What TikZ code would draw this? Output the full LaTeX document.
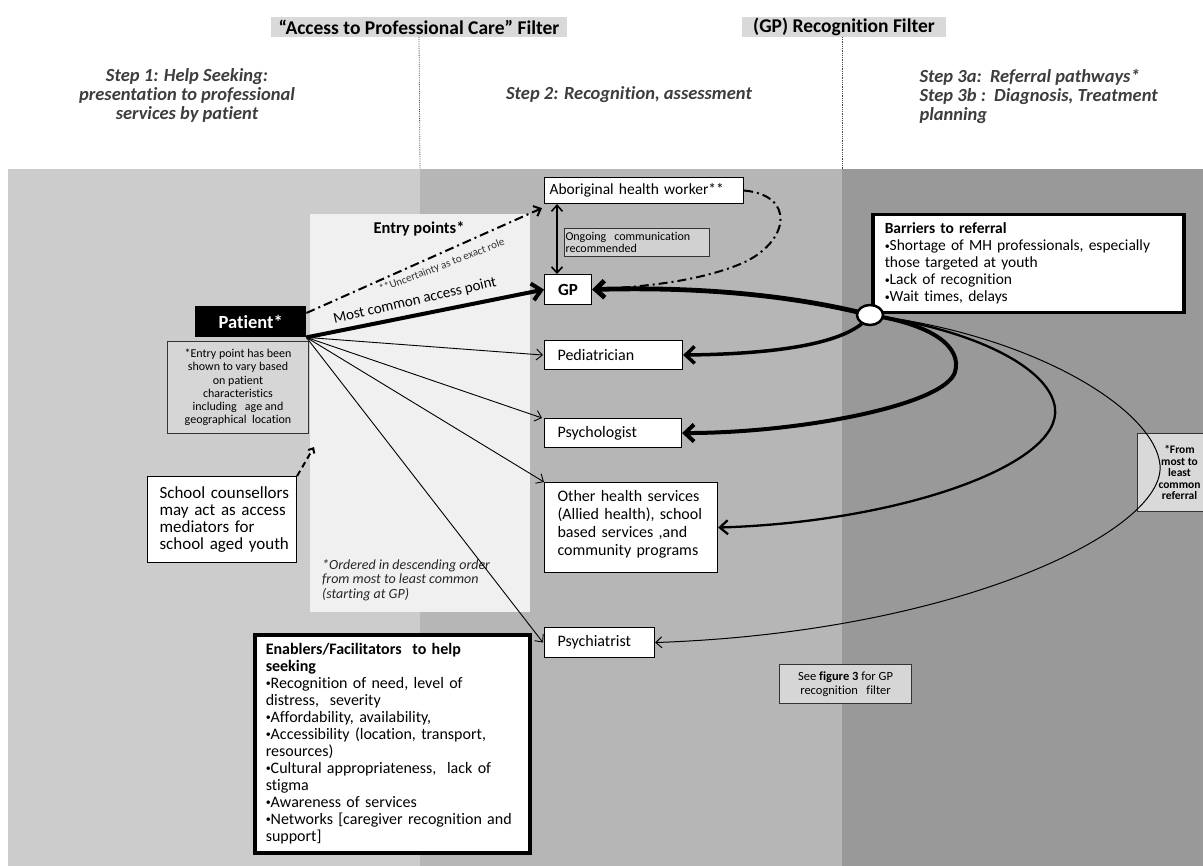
\documentclass[tikz,border=0pt]{standalone}
\usepackage{fontspec}
\setmainfont{Carlito}[Ligatures=NoCommon]
\usetikzlibrary{arrows.meta,shapes.geometric}
\newcommand\pxfont[2]{\fontsize{#1}{#2}\selectfont}
\newcommand\bul{{\fontsize{10}{10}\selectfont\raisebox{1.6pt}{•}}}
\definecolor{bgone}{HTML}{CCCCCC}
\definecolor{bgtwo}{HTML}{B6B6B6}
\definecolor{bgthree}{HTML}{999999}
\definecolor{entryfill}{HTML}{F0F0F0}
\definecolor{notefill}{HTML}{D6D6D6}
\definecolor{headgray}{HTML}{3D3D3D}
\definecolor{titlefill}{HTML}{D9D9D9}
\begin{document}
\begin{tikzpicture}[x=1pt, y=-1pt,
  cell/.style={draw=black, fill=white, line width=1.1pt, anchor=north west,
    inner ysep=0pt, font=\pxfont{16}{18}},
  bigcell/.style={cell, line width=3.5pt, font=\pxfont{15.5}{17}},
  notecell/.style={cell, fill=notefill, draw=black!80, line width=1pt},
  titlebox/.style={fill=titlefill, inner sep=0pt, font=\pxfont{19.5}{21}\bfseries},
  stephead/.style={text=headgray, font=\pxfont{18.5}{19}\bfseries\itshape},
  thinfan/.style={line width=0.9pt, -{Straight Barb[length=6pt,width=11pt]}},
  bigtip/.style={-{Straight Barb[length=9pt,width=17pt]}},
  dashdot/.style={line width=2pt, dash pattern=on 9pt off 4pt on 2pt off 4pt},
  hubstyle/.style={ellipse, draw=black, fill=white, line width=2.5pt,
    minimum width=26pt, minimum height=20pt, inner sep=0pt}
]
\clip (0,0) rectangle (1203,866);
\fill[white] (0,0) rectangle (1203,866);

% three column bands and the entry-points panel
\fill[bgone]   (8,169)   rectangle (420,866);
\fill[bgtwo]   (420,169) rectangle (842,866);
\fill[bgthree] (842,169) rectangle (1203,866);
\fill[entryfill] (310,214) rectangle (530,612);

% filter titles and dotted column dividers
\node[titlebox, minimum width=296pt, minimum height=20pt] (ttlA) at (419,27)
  {“Access to Professional Care” Filter};
\node[titlebox, minimum width=204pt, minimum height=20pt] (ttlB) at (844,27)
  {(GP) Recognition Filter};
\draw[densely dotted, black!70, line width=0.8pt] (ttlA.south) -- (420,169);
\draw[densely dotted, black!70, line width=0.8pt] (842,37) -- (842,169);

% step headings
\node[stephead, align=center] (stepA) at (187,95)
  {Step 1: Help Seeking:\\presentation to professional\\services by patient};
\node[stephead] (stepB) at (629,95) {Step 2: Recognition, assessment};
\node[stephead, align=left, anchor=west] (stepC) at (916,96)
  {Step 3a:~~Referral pathways*\\Step 3b :~~Diagnosis, Treatment\\planning};

% patient and its note
\node[fill=black, text=white, font=\pxfont{18.5}{20}\bfseries, anchor=north west,
  minimum width=111pt, minimum height=31pt, inner sep=0pt] (pat) at (195,306) {Patient*};
\node[notecell, minimum width=141pt, minimum height=92pt, align=center,
  font=\pxfont{12}{13.3}] (patnote) at (167,341)
  {*Entry point has been\\shown to vary based\\on patient\\characteristics\\including~~ age and\\geographical~ location};

% entry points
\node[cell, minimum width=199pt, minimum height=26pt, inner xsep=5pt,
  text width=189pt, align=left, font=\pxfont{15.5}{18}] (abo) at (544,177) {Aboriginal health worker**};
\node[notecell, fill=black!18, minimum width=145pt, minimum height=28pt, inner xsep=1pt,
  text width=143pt, align=left, font=\pxfont{12}{12.5}] (ongo) at (564,228)
  {\mbox{Ongoing~ communication}\\recommended};
\node[cell, minimum width=47pt, minimum height=30pt, font=\pxfont{17}{18}\bfseries] (gp) at (544,274) {GP};
\node[cell, minimum width=138pt, minimum height=29pt, inner xsep=13pt,
  text width=112pt, align=left] (ped) at (544,340) {Pediatrician};
\node[cell, minimum width=137pt, minimum height=29pt, inner xsep=13pt,
  text width=111pt, align=left] (psyl) at (544,418) {Psychologist};
\node[cell, minimum width=173pt, minimum height=90pt, inner xsep=13pt,
  text width=147pt, align=left] (oth) at (544,482)
  {\mbox{Other health services}\\\mbox{(Allied health), school}\\\mbox{based services ,and}\\\mbox{community programs}\\[-8pt]\mbox{}};
\node[cell, minimum width=110pt, minimum height=30pt, inner xsep=13pt,
  text width=84pt, align=left] (psyc) at (544,627) {Psychiatrist};

\node[font=\pxfont{16.5}{18}\bfseries] (entry) at (419,229) {Entry points*};
\node[text=black!85, font=\pxfont{14}{14.5}\itshape, align=left, anchor=north west,
  inner sep=0pt] (order) at (322,559)
  {*Ordered in descending order\\from most to least common\\(starting at GP)};

% school counsellors
\node[cell, minimum width=149pt, minimum height=86pt, inner xsep=12pt,
  text width=125pt, align=left, font=\pxfont{17}{16.7}] (sch) at (147,476)
  {\mbox{School counsellors}\\\mbox{may act as access}\\mediators for\\\mbox{school aged youth}};
\coordinate (schtip) at (314,447);

% enablers
\node[bigcell, minimum width=275pt, minimum height=218pt, inner xsep=11pt,
  text width=253pt, align=left, font=\pxfont{16}{17}] (enab) at (253,633)
  {\textbf{\mbox{Enablers/Facilitators~ to help}}\\\textbf{seeking}\\
   \mbox{\bul Recognition of need, level of}\\distress,~ severity\\
   \bul Affordability, availability,\\\mbox{\bul Accessibility (location, transport,}\\resources)\\
   \mbox{\bul Cultural appropriateness,~ lack of}\\stigma\\\bul Awareness of services\\
   \mbox{\bul Networks [caregiver recognition and}\\support]};

% barriers, notes on the right
\node[bigcell, minimum width=311pt, minimum height=98pt, inner xsep=12pt,
  text width=287pt, align=left] (barr) at (871,213)
  {\textbf{Barriers to referral}\\\mbox{\bul Shortage of MH professionals, especially}\\those targeted at youth\\\bul Lack of recognition\\\bul Wait times, delays};
\node[notecell, minimum width=132pt, minimum height=39pt, align=center,
  font=\pxfont{12.5}{13.5}] (seefig) at (779,664)
  {See \textbf{figure 3} for GP\\recognition~~ filter};
\node[notecell, fill=black!15, minimum width=84pt, minimum height=78pt, align=center,
  font=\pxfont{11.5}{11.5}\bfseries] (fromto) at (1137,433)
  {*From\\most to\\least\\common\\referral};

% connectors from the patient
\coordinate (ptc) at (pat.south east);
\coordinate (ptu) at ([yshift=-7pt]pat.north east);
\draw[dashdot, -{Straight Barb[length=6pt,width=11pt]}] (ptu) -- ([xshift=-2pt,yshift=-4pt]abo.south west);
\node[text=black!80, font=\pxfont{11}{12}, rotate=21] (unc) at (442,266) {**Uncertainty as to exact role};
\draw[line width=4pt, bigtip] (ptc) -- (gp.west);
\node[font=\pxfont{15}{16}, rotate=13] (mcap) at (415,301) {Most common access point};
\draw[thinfan] (ptc) -- ([xshift=-1pt]ped.west);
\draw[thinfan] (ptc) -- ([xshift=-2pt]psyl.north west);
\draw[thinfan] (ptc) -- (oth.north west);
\draw[thinfan] (ptc) -- ([xshift=-1pt]psyc.west);
\draw[line width=2pt, dash pattern=on 6pt off 4pt, -{Straight Barb[length=4pt,width=7pt]}]
  (sch.north east) -- (schtip);
\draw[line width=1.6pt, {Straight Barb[length=6pt,width=11pt]}-{Straight Barb[length=6pt,width=11pt]}]
  ([xshift=13pt]abo.south west) -- ([xshift=13pt]gp.north west);
\draw[dashdot] (abo.east) .. controls (795,195) and (790,240) .. (745,262)
  .. controls (700,282) and (640,287) .. (gp.east);

% referral pathways out of the GP recognition filter
\coordinate (hubc) at (870,315);
\draw[line width=4.8pt, bigtip] (hubc) .. controls (780,292) and (680,287) .. (gp.east);
\draw[line width=3.5pt, bigtip] (hubc) .. controls (850,345) and (770,354) .. (ped.east);
\draw[line width=4pt, bigtip] (hubc) .. controls (935,325) and (962,348) .. (955,372)
  .. controls (945,405) and (800,433) .. (psyl.east);
\draw[line width=2.3pt, -{Straight Barb[length=8pt,width=14pt]}] (hubc) .. controls (975,330) and (1050,368) .. (1055,408)
  .. controls (1062,465) and (900,522) .. (oth.east);
\draw[line width=1pt, -{Straight Barb[length=6pt,width=11pt]}] (hubc) .. controls (1035,335) and (1155,410) .. (1160,465)
  .. controls (1166,530) and (960,632) .. (psyc.east);
\node[hubstyle] (hub) at (hubc) {};
\end{tikzpicture}
\end{document}
